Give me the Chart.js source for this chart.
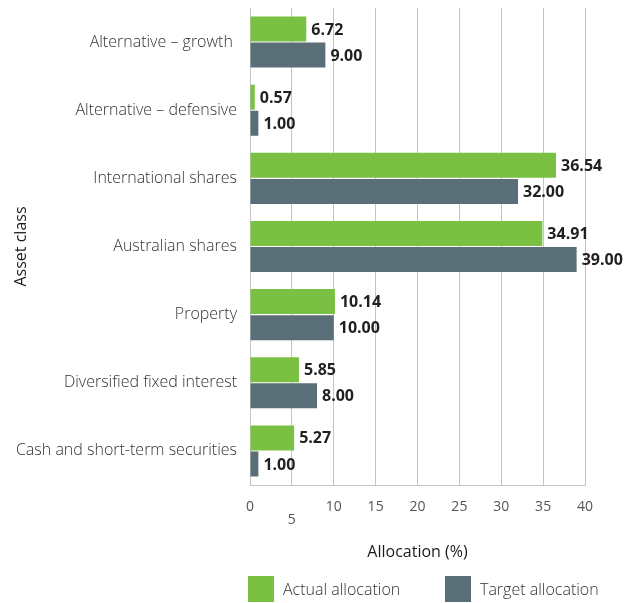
<!DOCTYPE html>
<html>
<head>
<meta charset="utf-8">
<script src="https://cdn.jsdelivr.net/npm/chart.js@4/dist/chart.umd.min.js"></script>
<style>
    body { margin: 0; background: #fff; font-family: "Open Sans", sans-serif; }
    #wrap { position: relative; width: 636px; height: 603px; }
    .legend-item { position: absolute; top: 576px; height: 26px; display: flex; align-items: center; font-size: 16px; color: #333; font-weight: 300; }
    .legend-item span.box { width: 26px; height: 26px; margin-right: 9px; display: inline-block; }
</style>
</head>
<body>
<div id="wrap">
    <canvas id="allocChart" width="636" height="603"></canvas>
    <div class="legend-item" style="left:248px"><span class="box" style="background:#7ac143"></span>Actual allocation</div>
    <div class="legend-item" style="left:445px"><span class="box" style="background:#5a6e78"></span>Target allocation</div>
</div>
<script>
const assetClasses = [
    "Alternative – growth ",
    "Alternative – defensive",
    "International shares",
    "Australian shares",
    "Property",
    "Diversified fixed interest",
    "Cash and short-term securities"
];
const actualAllocation = [6.72, 0.57, 36.54, 34.91, 10.14, 5.85, 5.27];
const targetAllocation = [9.00, 1.00, 32.00, 39.00, 10.00, 8.00, 1.00];
const xTicks = [0, 5, 10, 15, 20, 25, 30, 35, 40];

const gridColor = "#c4c4c4";

// writes the value at the end of each bar
const valueLabels = {
    id: "valueLabels",
    afterDatasetsDraw(chart) {
        const ctx = chart.ctx;
        ctx.save();
        ctx.font = "bold 16px 'Open Sans'";
        ctx.fillStyle = "#231f20";
        ctx.textAlign = "left";
        ctx.textBaseline = "middle";
        chart.data.datasets.forEach((ds, i) => {
            chart.getDatasetMeta(i).data.forEach((bar, j) => {
                ctx.fillText(ds.data[j].toFixed(2), bar.x + 5, bar.y + 1);
            });
        });
        ctx.restore();
    }
};

const ctx = document.getElementById("allocChart").getContext("2d");

new Chart(ctx, {
    type: "bar",
    data: {
        labels: assetClasses,
        datasets: [
            {
                label: "Actual allocation",
                data: actualAllocation,
                backgroundColor: "#7ac143",
                categoryPercentage: 0.765,
                barPercentage: 0.96
            },
            {
                label: "Target allocation",
                data: targetAllocation,
                backgroundColor: "#5a6e78",
                categoryPercentage: 0.765,
                barPercentage: 0.96
            }
        ]
    },
    options: {
        indexAxis: "y",
        responsive: false,
        animation: false,
        layout: { padding: { left: 0, right: 51, top: 8, bottom: 41 } },
        plugins: {
            legend: { display: false },
            tooltip: { enabled: false }
        },
        scales: {
            x: {
                min: 0,
                max: 40,
                afterBuildTicks: scale => { scale.ticks = xTicks.map(v => ({ value: v })); },
                afterFit: scale => { scale.height = 77; scale.paddingRight = 0; scale.paddingLeft = 0; },
                grid: { color: gridColor, lineWidth: 1, drawTicks: false },
                border: { color: gridColor },
                ticks: {
                    padding: 15,
                    color: "#555",
                    font: { family: "'Open Sans'", size: 14, lineHeight: 0.95 },
                    callback: v => v === 5 ? ["", "5"] : String(v)
                },
                title: {
                    display: true,
                    text: "Allocation (%)",
                    color: "#1a1a1a",
                    font: { family: "'Open Sans'", size: 16 },
                    padding: { top: 0, bottom: 0 }
                }
            },
            y: {
                afterFit: scale => { scale.width = 250; scale.paddingTop = 0; scale.paddingBottom = 0; },
                grid: { display: false, drawTicks: false },
                border: { display: true, color: gridColor },
                ticks: {
                    padding: 13,
                    color: "#333",
                    font: { family: "'Open Sans'", size: 16, weight: "300" }
                },
                title: {
                    display: true,
                    text: "Asset class",
                    color: "#1a1a1a",
                    font: { family: "'Open Sans'", size: 16 },
                    padding: { top: 12, bottom: 0 }
                }
            }
        }
    },
    plugins: [valueLabels]
});
</script>
</body>
</html>
